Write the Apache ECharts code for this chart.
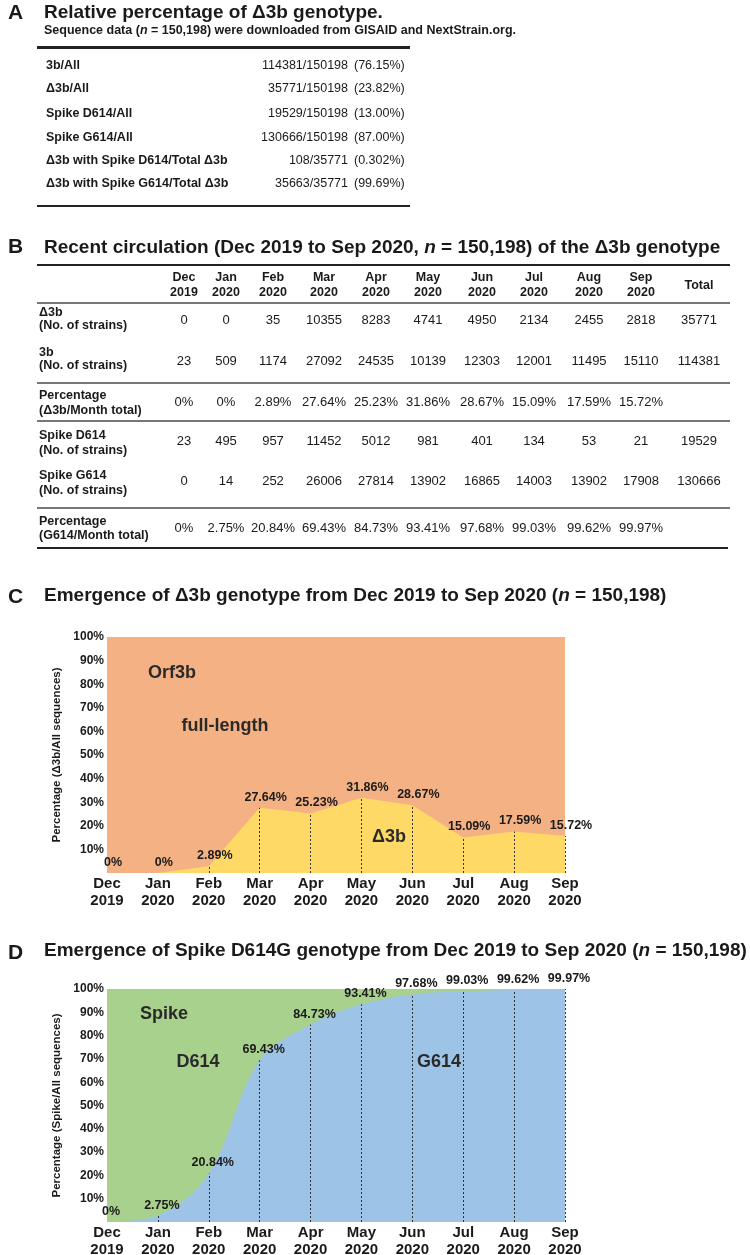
<!DOCTYPE html>
<html><head><meta charset="utf-8">
<script src="https://cdn.jsdelivr.net/npm/echarts@6.0.0/dist/echarts.min.js"></script>
<style>
html,body{margin:0;padding:0;background:#fff;}
#page{position:relative;width:750px;height:1255px;overflow:hidden;font-family:"Liberation Sans",Arial,Helvetica,sans-serif;color:#1a1a1a;}
#chart{position:absolute;left:0;top:0;width:750px;height:1255px;}
.t{position:absolute;white-space:nowrap;z-index:5;}
.rule{position:absolute;z-index:5;}
</style></head>
<body><div id="page"><div id="chart"></div></div>
<script>
// ---------- data ----------
const months = ['Dec','Jan','Feb','Mar','Apr','May','Jun','Jul','Aug','Sep'];
const years = ['2019','2020','2020','2020','2020','2020','2020','2020','2020','2020'];

const summaryLabels = ['3b/All','Δ3b/All','Spike D614/All','Spike G614/All','Δ3b with Spike D614/Total Δ3b','Δ3b with Spike G614/Total Δ3b'];
const summaryFractions = ['114381/150198','35771/150198','19529/150198','130666/150198','108/35771','35663/35771'];
const summaryPercents = ['(76.15%)','(23.82%)','(13.00%)','(87.00%)','(0.302%)','(99.69%)'];

const delta3bCounts = [0,0,35,10355,8283,4741,4950,2134,2455,2818];
const delta3bTotal = 35771;
const orf3bCounts = [23,509,1174,27092,24535,10139,12303,12001,11495,15110];
const orf3bTotal = 114381;
const delta3bPct = [0,0,2.89,27.64,25.23,31.86,28.67,15.09,17.59,15.72];
const d614Counts = [23,495,957,11452,5012,981,401,134,53,21];
const d614Total = 19529;
const g614Counts = [0,14,252,26006,27814,13902,16865,14003,13902,17908];
const g614Total = 130666;
const g614Pct = [0,2.75,20.84,69.43,84.73,93.41,97.68,99.03,99.62,99.97];

// ---------- helpers ----------
const page = document.getElementById('page');
function txt(html, x, y, size, bold, align, extra) {
  const d = document.createElement('div');
  d.className = 't';
  d.innerHTML = html;
  d.style.fontSize = size + 'px';
  d.style.fontWeight = bold ? 'bold' : 'normal';
  d.style.lineHeight = (size * 1.2) + 'px';
  d.style.top = (y - size * 0.6) + 'px';
  d.style.left = x + 'px';
  if (align === 'center') d.style.transform = 'translateX(-50%)';
  if (align === 'right') d.style.transform = 'translateX(-100%)';
  if (extra) Object.assign(d.style, extra);
  page.appendChild(d);
  return d;
}
function rule(x1, x2, y, h, color) {
  const d = document.createElement('div');
  d.className = 'rule';
  d.style.left = x1 + 'px';
  d.style.width = (x2 - x1) + 'px';
  d.style.top = (y - h / 2) + 'px';
  d.style.height = h + 'px';
  d.style.background = color;
  page.appendChild(d);
}

// ---------- Panel A ----------
txt('A', 8, 12, 21, true, 'left');
txt('Relative percentage of Δ3b genotype.', 44, 12, 19, true, 'left');
txt('Sequence data (<i>n</i> = 150,198) were downloaded from GISAID and NextStrain.org.', 44, 30, 12.5, true, 'left');
rule(37, 410, 47.5, 2.5, '#222');
const rowYA = [65, 88.5, 113, 137, 160, 183.5];
summaryLabels.forEach((s, i) => {
  txt(s, 46, rowYA[i], 12.5, true, 'left');
  txt(summaryFractions[i], 348, rowYA[i], 12.5, false, 'right');
  txt(summaryPercents[i], 354, rowYA[i], 12.5, false, 'left');
});
rule(37, 410, 206, 2.5, '#222');

// ---------- Panel B ----------
txt('B', 8, 246, 21, true, 'left');
txt('Recent circulation (Dec 2019 to Sep 2020, <i>n</i> = 150,198) of the Δ3b genotype', 44, 247, 19, true, 'left');
rule(37, 730, 265, 2.5, '#222');
const colX = [184, 226, 273, 324, 376, 428, 482, 534, 589, 641];
const totalX = 699;
months.forEach((m, i) => {
  txt(m, colX[i], 277, 12.5, true, 'center');
  txt(years[i], colX[i], 292, 12.5, true, 'center');
});
txt('Total', totalX, 285, 12.5, true, 'center');
rule(37, 730, 303, 1.5, '#777');

const rowsB = [
  { l1: 'Δ3b', l2: '(No. of strains)', ly: [312, 325], vy: 320, vals: delta3bCounts.map(String), total: delta3bTotal },
  { l1: '3b', l2: '(No. of strains)', ly: [352, 365], vy: 361, vals: orf3bCounts.map(String), total: orf3bTotal },
  { l1: 'Percentage', l2: '(Δ3b/Month total)', ly: [395, 410], vy: 402, vals: delta3bPct.map(v => v + '%'), total: null },
  { l1: 'Spike D614', l2: '(No. of strains)', ly: [435, 450], vy: 441, vals: d614Counts.map(String), total: d614Total },
  { l1: 'Spike G614', l2: '(No. of strains)', ly: [475, 490], vy: 481, vals: g614Counts.map(String), total: g614Total },
  { l1: 'Percentage', l2: '(G614/Month total)', ly: [521, 535], vy: 528, vals: g614Pct.map(v => v + '%'), total: null }
];
rowsB.forEach(r => {
  txt(r.l1, 39, r.ly[0], 12.5, true, 'left');
  txt(r.l2, 39, r.ly[1], 12.5, true, 'left');
  r.vals.forEach((v, i) => txt(v, colX[i], r.vy, 13, false, 'center'));
  if (r.total !== null) txt(String(r.total), totalX, r.vy, 13, false, 'center');
});
rule(37, 730, 383, 1.5, '#777');
rule(37, 730, 421, 1.5, '#777');
rule(37, 730, 508, 1.5, '#777');
rule(37, 728, 548, 2.5, '#222');

// ---------- Panel C / D titles & annotations ----------
txt('C', 8, 596, 21, true, 'left');
txt('Emergence of Δ3b genotype from Dec 2019 to Sep 2020 (<i>n</i> = 150,198)', 44, 595, 19, true, 'left');
txt('D', 8, 952, 21, true, 'left');
txt('Emergence of Spike D614G genotype from Dec 2019 to Sep 2020 (<i>n</i> = 150,198)', 44, 950, 19, true, 'left');

txt('Orf3b', 172, 673, 18, true, 'center', { color: '#2a2a2a' });
txt('full-length', 225, 726, 18, true, 'center', { color: '#2a2a2a' });
txt('Δ3b', 389, 837, 18, true, 'center', { color: '#2a2a2a' });
txt('Spike', 164, 1014, 18, true, 'center', { color: '#2a2a2a' });
txt('D614', 198, 1062, 18, true, 'center', { color: '#2a2a2a' });
txt('G614', 439, 1062, 18, true, 'center', { color: '#2a2a2a' });

// ---------- Charts ----------
const FONT = '"Liberation Sans", Arial, Helvetica, sans-serif';
const INK = '#1a1a1a';
const axisCats = months.map((m, i) => m + '\n' + years[i]);

function xAx(gi) {
  return {
    gridIndex: gi, type: 'category', boundaryGap: false, data: axisCats,
    axisLine: { show: false }, axisTick: { show: false }, splitLine: { show: false },
    axisLabel: { interval: 0, margin: 2, fontSize: 15, fontWeight: 'bold', color: INK, lineHeight: 17, fontFamily: FONT }
  };
}
function yAx(gi, name) {
  return {
    gridIndex: gi, type: 'value', min: 0, max: 100, interval: 10,
    axisLine: { show: false }, axisTick: { show: false }, splitLine: { show: false },
    axisLabel: { margin: 3, fontSize: 12, fontWeight: 'bold', color: INK, fontFamily: FONT,
      formatter: v => (v === 0 ? '' : v + '%') },
    name: name, nameLocation: 'middle', nameGap: 41,
    nameTextStyle: { fontSize: 11.5, fontWeight: 'bold', color: INK, fontFamily: FONT }
  };
}
function areaSeries(gi, values, color, smooth, offX) {
  return {
    type: 'line', xAxisIndex: gi, yAxisIndex: gi, data: values,
    smooth: smooth, symbol: 'circle', symbolSize: 0, showSymbol: true,
    lineStyle: { width: 0 }, itemStyle: { color: color },
    areaStyle: { color: color, opacity: 1 },
    label: { show: true, position: 'top', distance: 4, offset: [offX, 0],
      formatter: p => p.value + '%', fontSize: 12.5, fontWeight: 'bold', color: INK, fontFamily: FONT },
    markLine: {
      silent: true, symbol: ['none', 'none'], label: { show: false },
      lineStyle: { type: [2, 2], color: '#333', width: 1 },
      data: values.map((v, i) => (v > 0 ? [{ coord: [i, 0] }, { coord: [i, v] }] : null)).filter(Boolean)
    }
  };
}

const chart = echarts.init(document.getElementById('chart'), null, { renderer: 'canvas' });
chart.setOption({
  animation: false,
  grid: [
    { left: 107, top: 637, width: 458, height: 236, show: true, backgroundColor: '#F4B183', borderWidth: 0, outerBoundsMode: 'none' },
    { left: 107, top: 989, width: 458, height: 233, show: true, backgroundColor: '#A9D18E', borderWidth: 0, outerBoundsMode: 'none' }
  ],
  xAxis: [xAx(0), xAx(1)],
  yAxis: [yAx(0, 'Percentage (Δ3b/All sequences)'), yAx(1, 'Percentage (Spike/All sequences)')],
  series: [
    areaSeries(0, delta3bPct, '#FFD966', false, 6),
    areaSeries(1, g614Pct, '#9DC3E6', 0.35, 4)
  ]
});
</script>
</body></html>
